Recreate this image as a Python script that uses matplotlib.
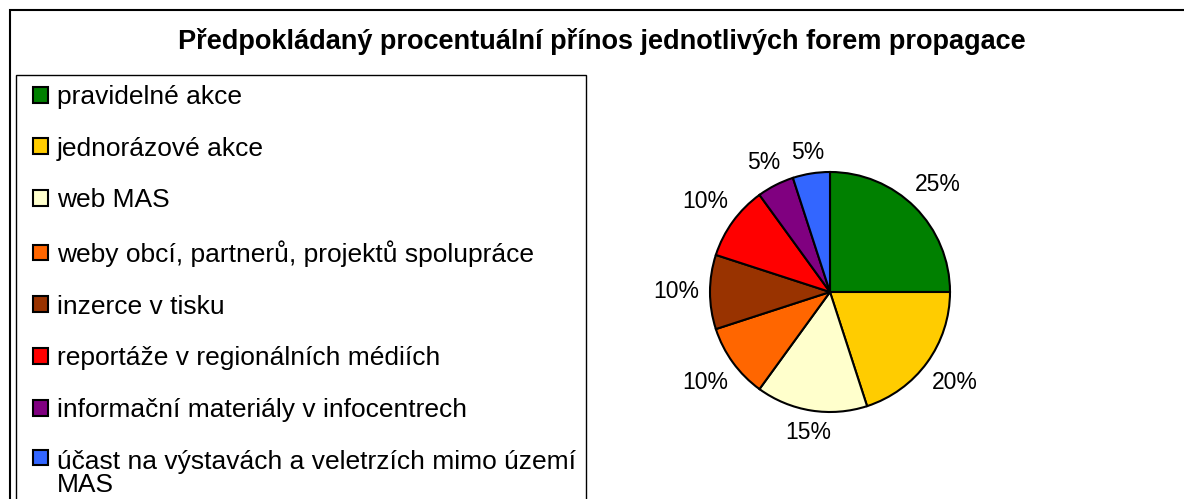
import numpy as np
import matplotlib
matplotlib.use("Agg")
import matplotlib.pyplot as plt
from matplotlib.patches import Rectangle, Patch

plt.rcParams['font.family'] = ['Liberation Sans', 'DejaVu Sans']

title = "Předpokládaný procentuální přínos jednotlivých forem propagace"
categories = [
    "pravidelné akce",
    "jednorázové akce",
    "web MAS",
    "weby obcí, partnerů, projektů spolupráce",
    "inzerce v tisku",
    "reportáže v regionálních médiích",
    "informační materiály v infocentrech",
    "účast na výstavách a veletrzích mimo území\nMAS",
]
shares = [25, 20, 15, 10, 10, 10, 5, 5]
colors = ["#008000", "#FFCC00", "#FFFFCC", "#FF6600",
          "#993300", "#FF0000", "#800080", "#3366FF"]

W, H = 1184, 499
fig = plt.figure(figsize=(W / 100, H / 100), dpi=100)

# outer chart frame
fig.patches.append(Rectangle((10 / W, -0.1), 1.2, 1 - 10 / H + 0.1,
                             transform=fig.transFigure, fill=False,
                             edgecolor="black", linewidth=1.5))

fig.text(602 / W, 1 - 49 / H, title, ha="center", va="baseline",
         fontsize=19.5, fontweight="bold")

# pie
cx, cy, r = 830, 292, 120
ax = fig.add_axes([(cx - r) / W, (H - cy - r) / H, 2 * r / W, 2 * r / H])
wedges, texts, autotexts = ax.pie(
    shares, colors=colors, startangle=90, counterclock=False,
    autopct=lambda p: f"{p:.0f}%", pctdistance=1.28,
    wedgeprops=dict(edgecolor="black", linewidth=1.5),
    textprops=dict(fontsize=16.5, color="black"))
ax.set_xlim(-1, 1)
ax.set_ylim(-1, 1)
ax.set_aspect("equal")
ax.axis("off")

# legend
handles = [Patch(facecolor=c, edgecolor="black", linewidth=1.5) for c in colors]
fs = 19
box = 0.55      # marker side, in font sizes
indent = 0.27   # extra space left of each marker, in font sizes
leg = fig.legend(handles, categories, loc="upper left",
                 bbox_to_anchor=(16 / W, 1 - 75 / H),
                 fontsize=fs, frameon=True, fancybox=False, shadow=False,
                 handlelength=box + indent, handleheight=box,
                 handletextpad=0.35, labelspacing=1.05, borderpad=0.38,
                 borderaxespad=0)
frame = leg.get_frame()
frame.set_edgecolor("black")
frame.set_linewidth(1.0)
frame.set_alpha(1)
leg.get_texts()[-1].set_linespacing(0.95)

for h in leg.legend_handles:
    h.set_x(h.get_x() + indent * fs)
    h.set_width(box * fs)

# keep the marker of the wrapped legend entry level with its first line
last = leg.legend_handles[-1]
last.set_y(last.get_y() + 0.6 * fs)

# put data labels just outside the rim, keeping a constant gap to the text box
fig.canvas.draw()
renderer = fig.canvas.get_renderer()
gap = 11 / r
for w, t in zip(wedges, autotexts):
    theta = np.deg2rad(0.5 * (w.theta1 + w.theta2))
    bb = t.get_window_extent(renderer)
    hw = bb.width / 2 / r
    hh = 7.5 / r
    d = 1 + gap + abs(np.cos(theta)) * hw + abs(np.sin(theta)) * hh
    t.set_position((d * np.cos(theta), d * np.sin(theta)))
    t.set_ha("center")
    t.set_va("center")
    t.set_clip_on(False)

fig.savefig("out.png", dpi=100)
